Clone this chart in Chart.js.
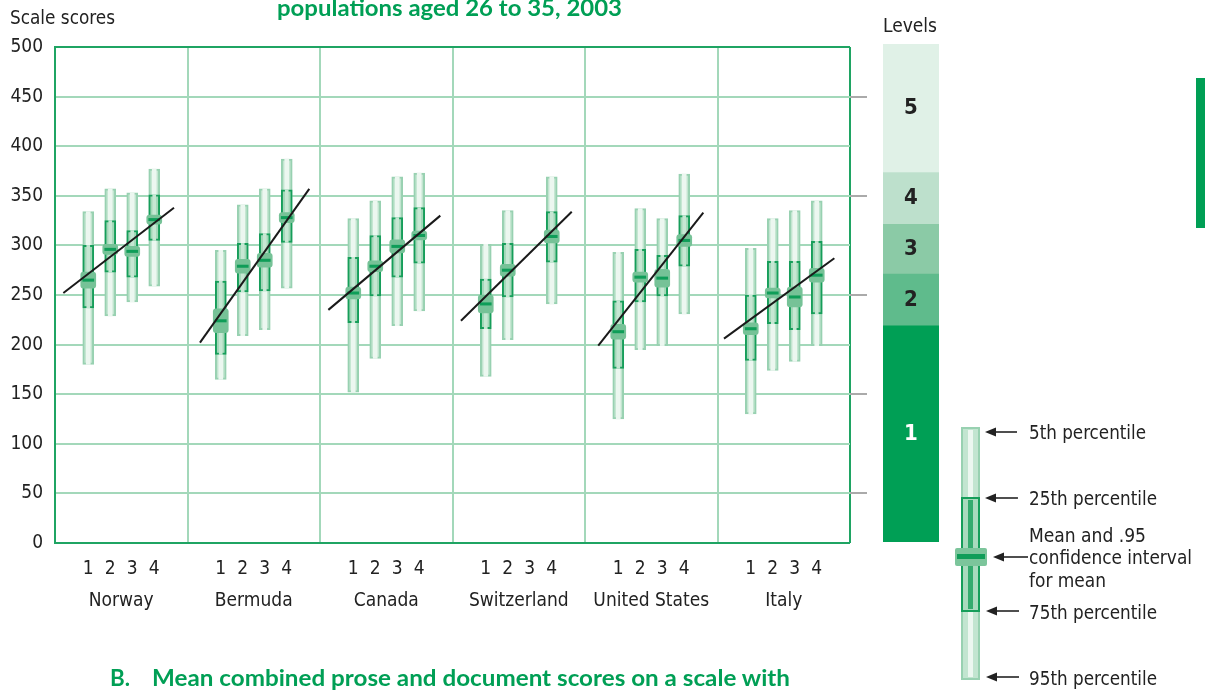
<!DOCTYPE html>
<html><head><meta charset="utf-8">
<script src="https://cdn.jsdelivr.net/npm/chart.js@4.4.1/dist/chart.umd.min.js"></script>
<style>
html,body{margin:0;padding:0;background:#fff;width:1205px;height:690px;overflow:hidden;position:relative}
#main{position:absolute;left:0;top:0;width:880px;height:625px}
#lev{position:absolute;left:883px;top:0;width:56px;height:560px}
#ov{position:absolute;left:0;top:0}
#bar{position:absolute;left:1196px;top:78px;width:9px;height:150px;background:#009f55}
</style></head><body>
<canvas id="main" width="880" height="625"></canvas>
<canvas id="lev" width="56" height="560"></canvas>
<div id="bar"></div>
<svg id="ov" width="1205" height="690" xmlns="http://www.w3.org/2000/svg">
  <g font-family="Lato, 'Open Sans', sans-serif" font-weight="bold" fill="#009f55">
    <text x="277" y="16" font-size="22" textLength="345" lengthAdjust="spacingAndGlyphs">populations aged 26 to 35, 2003</text>
    <text x="110" y="686" font-size="22" textLength="20" lengthAdjust="spacingAndGlyphs">B.</text>
    <text x="152" y="686" font-size="22" textLength="638" lengthAdjust="spacingAndGlyphs">Mean combined prose and document scores on a scale with</text>
  </g>
  <g font-family="'Liberation Sans Narrow','DejaVu Sans Condensed',sans-serif" fill="#222" font-size="20">
    <text x="10" y="24" textLength="105" lengthAdjust="spacingAndGlyphs">Scale scores</text>
    <text x="883" y="32" textLength="54" lengthAdjust="spacingAndGlyphs">Levels</text>
    <text x="1029" y="439" textLength="117" lengthAdjust="spacingAndGlyphs">5th percentile</text>
    <text x="1029" y="505" textLength="128" lengthAdjust="spacingAndGlyphs">25th percentile</text>
    <text x="1029" y="542" textLength="117" lengthAdjust="spacingAndGlyphs">Mean and .95</text>
    <text x="1029" y="564" textLength="163" lengthAdjust="spacingAndGlyphs">confidence interval</text>
    <text x="1029" y="587" textLength="77" lengthAdjust="spacingAndGlyphs">for mean</text>
    <text x="1029" y="619" textLength="128" lengthAdjust="spacingAndGlyphs">75th percentile</text>
    <text x="1029" y="685" textLength="128" lengthAdjust="spacingAndGlyphs">95th percentile</text>
  </g>
  <!-- legend glyph -->
  <rect x="962" y="428" width="17" height="251" fill="#c2e5d0" stroke="#98d1b1" stroke-width="2"/>
  <rect x="968" y="430" width="5" height="247" fill="#ecf7f0"/>
  <rect x="962" y="498" width="17" height="113" fill="#a9dabd" stroke="#169e5a" stroke-width="2"/>
  <rect x="968" y="500" width="5" height="109" fill="#35ab6e"/>
  <rect x="955" y="548" width="32" height="18" rx="2" fill="#7cc59b"/>
  <rect x="957" y="554" width="28" height="5" fill="#0f9d58"/>
  <g stroke="#222" stroke-width="1.6" fill="#222">
    <line x1="992" y1="432" x2="1017" y2="432"/><path d="M985 432 L996 427.5 L996 436.5 Z" stroke="none"/>
    <line x1="992" y1="498" x2="1018" y2="498"/><path d="M985 498 L996 493.5 L996 502.5 Z" stroke="none"/>
    <line x1="1000" y1="557" x2="1028" y2="557"/><path d="M993 557 L1004 552.5 L1004 561.5 Z" stroke="none"/>
    <line x1="993" y1="611" x2="1019" y2="611"/><path d="M986 611 L997 606.5 L997 615.5 Z" stroke="none"/>
    <line x1="993" y1="677" x2="1019" y2="677"/><path d="M986 677 L997 672.5 L997 681.5 Z" stroke="none"/>
  </g>
</svg>
<script>
// ---------- data ----------
const countries = ['Norway', 'Bermuda', 'Canada', 'Switzerland', 'United States', 'Italy'];
const groupLabels = ['1', '2', '3', '4'];
const yTickValues = [0, 50, 100, 150, 200, 250, 300, 350, 400, 450, 500];
const rightTickValues = [50, 150, 250, 350, 450];

// upper and lower ends of the light bar
const whiskerHigh = [
  [334, 357, 353, 377],
  [295, 341, 357, 387],
  [327, 345, 369, 373],
  [301, 335, null, 369],
  [293, 337, 327, 372],
  [297, 327, 335, 345]
];
const whiskerLow = [
  [180, 229, 243, 259],
  [165, 209, 215, 257],
  [152, 186, 219, 234],
  [168, 205, null, 241],
  [125, 195, 199, 231],
  [130, 174, 183, 199]
];
// outlined box
const boxHigh = [
  [300, 325, 315, 351],
  [264, 302, 312, 356],
  [288, 310, 328, 338],
  [266, 302, null, 334],
  [244, 296, 290, 330],
  [250, 284, 284, 304]
];
const boxLow = [
  [237, 273, 268, 305],
  [190, 253, 254, 303],
  [222, 249, 268, 282],
  [216, 248, null, 283],
  [176, 243, 249, 279],
  [184, 221, 215, 231]
];
const means = [
  [265, 296, 294, 326],
  [224, 279, 285, 328],
  [252, 279, 299, 310],
  [241, 275, null, 309],
  [213, 268, 267, 305],
  [216, 252, 248, 270]
];
const ciHalf = [
  [8, 5, 5, 4.5],
  [12, 7, 7, 5],
  [6, 5.5, 6.5, 4.5],
  [9, 6, null, 6.5],
  [7.5, 5, 9, 6],
  [6, 5, 10, 7]
];
// regression lines (x in group units, 0..6)
const trendStartX = [0.063, 1.094, 2.063, 3.064, 4.100, 5.049];
const trendStartY = [252, 202, 235, 224, 199, 206];
const trendEndX = [0.898, 1.919, 2.908, 3.900, 4.893, 5.882];
const trendEndY = [338, 357, 330, 334, 333, 287];

// proficiency levels
const levelNames = ['1', '2', '3', '4', '5'];
const levelBounds = [0, 217, 269, 319, 371, 500];

// ---------- styling ----------
const FONT = '"Liberation Sans Narrow", "DejaVu Sans Condensed", Roboto, sans-serif';
const DARK = '#1fa463';
const LIGHT = '#a3d8ba';
const SLOT = 0.166;
const levelColors = ['#009f55', '#5fbb8c', '#8bcaa6', '#bde0cc', '#e0f1e7'];

function pos(g, k) { return g + 0.5 + (k - 1.5) * SLOT; }

function rangePts(lowFn, highFn) {
  const out = [];
  countries.forEach((c, g) => groupLabels.forEach((l, k) => {
    const lo = lowFn(g, k), hi = highFn(g, k);
    if (lo == null || hi == null || isNaN(lo) || isNaN(hi)) return;
    out.push({ x: pos(g, k), y: [lo, hi] });
  }));
  return out;
}
const V = arr => (g, k) => arr[g][k];
const ciLo = (g, k) => means[g][k] == null ? null : means[g][k] - ciHalf[g][k];
const ciHi = (g, k) => means[g][k] == null ? null : means[g][k] + ciHalf[g][k];
const mLo = (g, k) => means[g][k] == null ? null : means[g][k] - 1.2;
const mHi = (g, k) => means[g][k] == null ? null : means[g][k] + 1.2;

const xTickDefs = [];
for (let i = 0; i <= countries.length; i++) xTickDefs.push({ value: i, label: '' });
countries.forEach((c, g) => {
  groupLabels.forEach((l, k) => xTickDefs.push({ value: pos(g, k), label: l }));
  xTickDefs.push({ value: g + 0.5, label: ['', c] });
});
xTickDefs.sort((a, b) => a.value - b.value);

const barBase = { type: 'bar', grouped: false, borderSkipped: false };
const datasets = [
  Object.assign({}, barBase, { data: rangePts(V(whiskerLow), V(whiskerHigh)), backgroundColor: '#c2e5d0', borderColor: '#98d1b1', borderWidth: 2, barThickness: 11, order: 10 }),
  Object.assign({}, barBase, { data: rangePts(V(whiskerLow), V(whiskerHigh)), backgroundColor: '#ecf7f0', borderWidth: 0, barThickness: 4, order: 9 }),
  Object.assign({}, barBase, { data: rangePts(V(boxLow), V(boxHigh)), backgroundColor: '#a3d7b8', borderColor: '#169e5a', borderWidth: 2, barThickness: 11, order: 8 }),
  Object.assign({}, barBase, { data: rangePts(V(boxLow), V(boxHigh)), backgroundColor: '#c6e7d3', borderWidth: 0, barThickness: 3, order: 7 }),
  Object.assign({}, barBase, { data: rangePts(ciLo, ciHi), backgroundColor: '#76c297', borderWidth: 0, borderRadius: 3, barThickness: 15, order: 6 }),
  Object.assign({}, barBase, { data: rangePts(mLo, mHi), backgroundColor: '#0f9d58', borderWidth: 0, barThickness: 11, order: 5 })
];
countries.forEach((c, g) => datasets.push({
  type: 'line', data: [{ x: trendStartX[g], y: trendStartY[g] }, { x: trendEndX[g], y: trendEndY[g] }],
  borderColor: '#1a1a1a', borderWidth: 2, pointRadius: 0, order: 1
}));

new Chart(document.getElementById('main'), {
  type: 'bar',
  data: { datasets },
  options: {
    responsive: false, animation: false,
    layout: { padding: { top: 47, left: 0, right: 0, bottom: 0 } },
    plugins: { legend: { display: false }, tooltip: { enabled: false } },
    scales: {
      x: {
        type: 'linear', min: 0, max: 6, offset: false,
        afterBuildTicks: s => { s.ticks = xTickDefs.map(d => ({ value: d.value })); },
        afterFit: s => { s.height = 82; },
        grid: {
          offset: false, drawTicks: false,
          color: ctx => {
            const v = ctx.tick ? ctx.tick.value : -1;
            if (v === 0 || v === 6) return DARK;
            if (Number.isInteger(v)) return LIGHT;
            return 'rgba(0,0,0,0)';
          },
          lineWidth: 2
        },
        border: { display: false },
        ticks: {
          autoSkip: false, maxRotation: 0, minRotation: 0, padding: 10, color: '#222',
          font: { family: FONT, size: 19, lineHeight: 1.7 },
          callback: (v, i) => xTickDefs[i] ? xTickDefs[i].label : ''
        }
      },
      y: {
        min: 0, max: 500,
        afterBuildTicks: s => { s.ticks = yTickValues.map(v => ({ value: v })); },
        afterFit: s => { s.width = 55; },
        grid: {
          drawTicks: false,
          color: ctx => (ctx.tick && (ctx.tick.value === 0 || ctx.tick.value === 500)) ? DARK : LIGHT,
          lineWidth: 2
        },
        border: { display: true, color: DARK, width: 2 },
        ticks: { padding: 12, color: '#222', font: { family: FONT, size: 19 } }
      },
      y2: {
        position: 'right', min: 0, max: 500,
        afterBuildTicks: s => { s.ticks = rightTickValues.map(v => ({ value: v })); },
        afterFit: s => { s.width = 30; },
        grid: { drawOnChartArea: false, drawTicks: true, tickLength: 17, color: '#aaaaaa', lineWidth: 2 },
        border: { display: false },
        ticks: { display: false }
      }
    }
  }
});

const levelLabelPlugin = {
  id: 'levelLabels',
  afterDatasetsDraw(chart) {
    const ctx = chart.ctx;
    chart.data.datasets.forEach((ds, i) => {
      const el = chart.getDatasetMeta(i).data[0];
      if (!el) return;
      ctx.save();
      ctx.font = 'bold 22px ' + FONT;
      ctx.fillStyle = i === 0 ? '#ffffff' : '#222222';
      ctx.textAlign = 'center';
      ctx.textBaseline = 'middle';
      ctx.fillText(ds.label, el.x, (el.y + el.base) / 2);
      ctx.restore();
    });
  }
};

new Chart(document.getElementById('lev'), {
  type: 'bar',
  data: {
    labels: ['Levels'],
    datasets: levelNames.map((n, i) => ({
      label: n, data: [[levelBounds[i], levelBounds[i + 1]]],
      backgroundColor: levelColors[i], borderWidth: 0, grouped: false,
      barPercentage: 1, categoryPercentage: 1
    }))
  },
  options: {
    responsive: false, animation: false,
    layout: { padding: { top: 44, bottom: 18, left: 0, right: 0 } },
    plugins: { legend: { display: false }, tooltip: { enabled: false } },
    scales: { x: { display: false }, y: { display: false, min: 0, max: 500 } }
  },
  plugins: [levelLabelPlugin]
});
</script>
</body></html>
